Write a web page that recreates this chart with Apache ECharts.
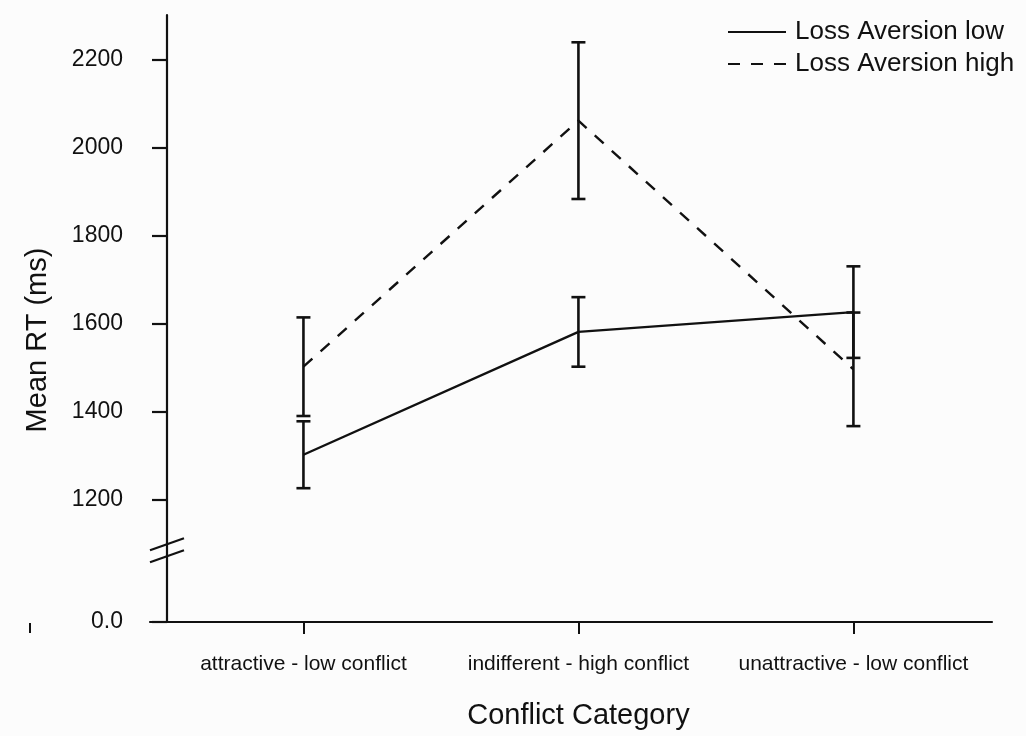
<!DOCTYPE html>
<html>
<head>
<meta charset="utf-8">
<script src="https://cdn.jsdelivr.net/npm/echarts@6/dist/echarts.min.js"></script>
<style>
html,body{margin:0;padding:0;background:#fcfcfc;}
#c{width:1026px;height:736px;}
</style>
</head>
<body>
<div id="c"></div>
<script>
// ---- data ----
const categories = ['attractive - low conflict', 'indifferent - high conflict', 'unattractive - low conflict'];
const seriesNames = ['Loss Aversion low', 'Loss Aversion high'];
const lowMean = [1303, 1582, 1627];
const lowErr = [76, 79, 104];
const highMean = [1503, 2062, 1497];
const highErr = [112, 178, 129];
const yTicks = [1200, 1400, 1600, 1800, 2000, 2200];
const yAxisName = 'Mean RT (ms)';
const xAxisName = 'Conflict Category';
const zeroLabel = '0.0';

// ---- layout ----
const Y_MIN = 923, Y_MAX = 2302;   // visible range; bottom stands for the broken "0.0"
const X_MIN = -0.558, X_MAX = 2.504;
const INK = '#111111';
const FONT = '"Liberation Sans", Arial, sans-serif';

const chart = echarts.init(document.getElementById('c'), null, {renderer: 'canvas'});

function pts(means) { return means.map((v, i) => [i, v]); }
function errs(means, e) { return means.map((v, i) => [i, v - e[i], v + e[i]]); }

function errRender(params, api) {
  const x = api.value(0), lo = api.value(1), hi = api.value(2);
  const a = api.coord([x, hi]), b = api.coord([x, lo]);
  const w = 7;
  const st = {stroke: INK, lineWidth: 2.6};
  return {type: 'group', children: [
    {type: 'line', shape: {x1: a[0], y1: a[1], x2: b[0], y2: b[1]}, style: st},
    {type: 'line', shape: {x1: a[0] - w, y1: a[1], x2: a[0] + w, y2: a[1]}, style: st},
    {type: 'line', shape: {x1: b[0] - w, y1: b[1], x2: b[0] + w, y2: b[1]}, style: st}
  ]};
}

const option = {
  backgroundColor: '#fcfcfc',
  animation: false,
  textStyle: {fontFamily: FONT, color: INK},
  grid: {left: 150, right: 34, top: 15, bottom: 114},
  legend: {
    orient: 'vertical', left: 722, top: 14,
    itemWidth: 58, itemHeight: 26, itemGap: 6,
    data: seriesNames,
    itemStyle: {opacity: 0},
    textStyle: {fontSize: 26, color: INK, fontFamily: FONT, padding: [0, 0, 0, 4]},
    selectedMode: false
  },
  xAxis: {
    type: 'value', min: X_MIN, max: X_MAX,
    splitLine: {show: false},
    axisLine: {onZero: false, lineStyle: {color: INK, width: 2.2}},
    axisTick: {show: true, length: 12, lineStyle: {color: INK, width: 2}, customValues: [0, 1, 2]},
    axisLabel: {customValues: [0, 1, 2], formatter: v => categories[Math.round(v)], fontSize: 21, color: INK, margin: 32, fontFamily: FONT}
  },
  yAxis: {
    type: 'value', min: Y_MIN, max: Y_MAX, offset: -17,
    splitLine: {show: false},
    axisLine: {show: true, onZero: false, lineStyle: {color: INK, width: 2.2}},
    axisTick: {show: true, length: 15, lineStyle: {color: INK, width: 2.2}, customValues: [Y_MIN].concat(yTicks)},
    axisLabel: {customValues: [Y_MIN].concat(yTicks), formatter: v => (v === Y_MIN ? zeroLabel : String(v)), fontSize: 23, color: INK, margin: 44, fontFamily: FONT}
  },
  series: [
    {name: seriesNames[0], type: 'line', data: pts(lowMean), symbol: 'none', showSymbol: false,
     lineStyle: {color: INK, width: 2.4, type: 'solid'}, itemStyle: {color: INK}, z: 3},
    {name: seriesNames[1], type: 'line', data: pts(highMean), symbol: 'none', showSymbol: false,
     lineStyle: {color: INK, width: 2.4, type: [12, 11]}, itemStyle: {color: INK}, z: 3},
    {type: 'custom', data: errs(lowMean, lowErr), renderItem: errRender, z: 4},
    {type: 'custom', data: errs(highMean, highErr), renderItem: errRender, z: 4}
  ]
};
chart.setOption(option);

// axis titles, axis break marks and the stray mark, placed from the axes
const yAxisX = chart.convertToPixel({xAxisIndex: 0}, X_MIN) + 17;
const breakY = chart.convertToPixel({yAxisIndex: 0}, 1086);
const zeroY = chart.convertToPixel({yAxisIndex: 0}, Y_MIN);
const midX = chart.convertToPixel({xAxisIndex: 0}, 1);
chart.setOption({
  graphic: [
    {type: 'text', x: 38, y: 340, rotation: Math.PI / 2,
     style: {text: yAxisName, font: '29px ' + FONT, fill: INK, align: 'center', verticalAlign: 'middle'}},
    {type: 'text', x: midX, y: 716,
     style: {text: xAxisName, font: '29px ' + FONT, fill: INK, align: 'center', verticalAlign: 'middle'}},
    {type: 'line', shape: {x1: yAxisX - 17, y1: breakY, x2: yAxisX + 17, y2: breakY - 12},
     style: {stroke: INK, lineWidth: 2.2}},
    {type: 'line', shape: {x1: yAxisX - 17, y1: breakY + 12, x2: yAxisX + 17, y2: breakY},
     style: {stroke: INK, lineWidth: 2.2}},
    {type: 'line', shape: {x1: 30, y1: zeroY + 1, x2: 30, y2: zeroY + 11},
     style: {stroke: INK, lineWidth: 2}}
  ]
});
</script>
</body>
</html>
